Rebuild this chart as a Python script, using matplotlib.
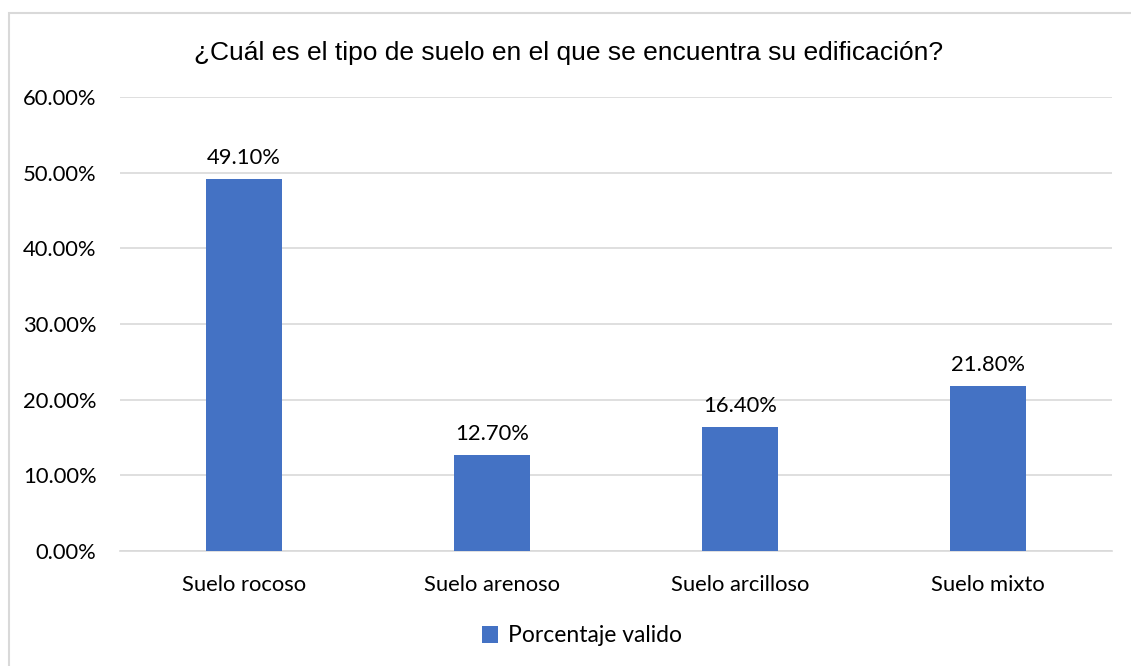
import matplotlib.pyplot as plt
from matplotlib import ticker
from matplotlib.patches import Rectangle

categories = ["Suelo rocoso", "Suelo arenoso", "Suelo arcilloso", "Suelo mixto"]
percentages = [49.10, 12.70, 16.40, 21.80]
series_name = "Porcentaje valido"
title = "¿Cuál es el tipo de suelo en el que se encuentra su edificación?"

BAR_COLOR = "#4472C4"
GRID_COLOR = "#D9D9D9"
TEXT_COLOR = "#000000"
LABEL_SIZE = 15.8

plt.rcParams["font.family"] = ["Lato", "DejaVu Sans"]

fig = plt.figure(figsize=(11.31, 6.66), dpi=100)
ax = fig.add_axes([120 / 1131, 115 / 666, 992 / 1131, 454 / 666])

# Light frame around the chart area
fig.patches.append(
    Rectangle((9 / 1131, -0.1), 1.2, (666 - 13) / 666 + 0.1, transform=fig.transFigure,
              fill=False, edgecolor="#D9D9D9", linewidth=1.5)
)

x = list(range(len(categories)))
bars = ax.bar(x, percentages, width=0.31, color=BAR_COLOR, label=series_name, zorder=3)

for bar, value in zip(bars, percentages):
    ax.annotate(f"{value:.2f}%", (bar.get_x() + bar.get_width() / 2, value),
                xytext=(0, 8), textcoords="offset points", ha="center", va="bottom",
                fontsize=LABEL_SIZE, color=TEXT_COLOR)

# Axes setup
ax.set_xlim(-0.5, len(categories) - 0.5)
ax.set_ylim(0, 60)
ax.yaxis.set_major_locator(ticker.MultipleLocator(10))
ax.yaxis.set_major_formatter(ticker.FuncFormatter(lambda v, _: f"{v:.2f}%"))
ax.set_xticks(x)
ax.set_xticklabels(categories)
ax.tick_params(axis="both", length=0, labelsize=LABEL_SIZE, colors=TEXT_COLOR)
ax.tick_params(axis="y", pad=17)
ax.tick_params(axis="x", pad=17)
ax.grid(axis="y", color=GRID_COLOR, linewidth=1.2, zorder=0)
for side in ["top", "right", "left"]:
    ax.spines[side].set_visible(False)
ax.spines["bottom"].set_color(GRID_COLOR)
ax.spines["bottom"].set_linewidth(1.2)

fig.text(569 / 1131, 1 - 53 / 666, title, ha="center", va="center",
         fontsize=19, family=["Liberation Sans", "DejaVu Sans"], color=TEXT_COLOR)

fig.legend(loc="center", bbox_to_anchor=(582 / 1131, 1 - 636 / 666), frameon=False,
           fontsize=LABEL_SIZE + 0.7, handlelength=0.7, handleheight=0.7, handletextpad=0.4)

fig.savefig("out.png", dpi=100)
